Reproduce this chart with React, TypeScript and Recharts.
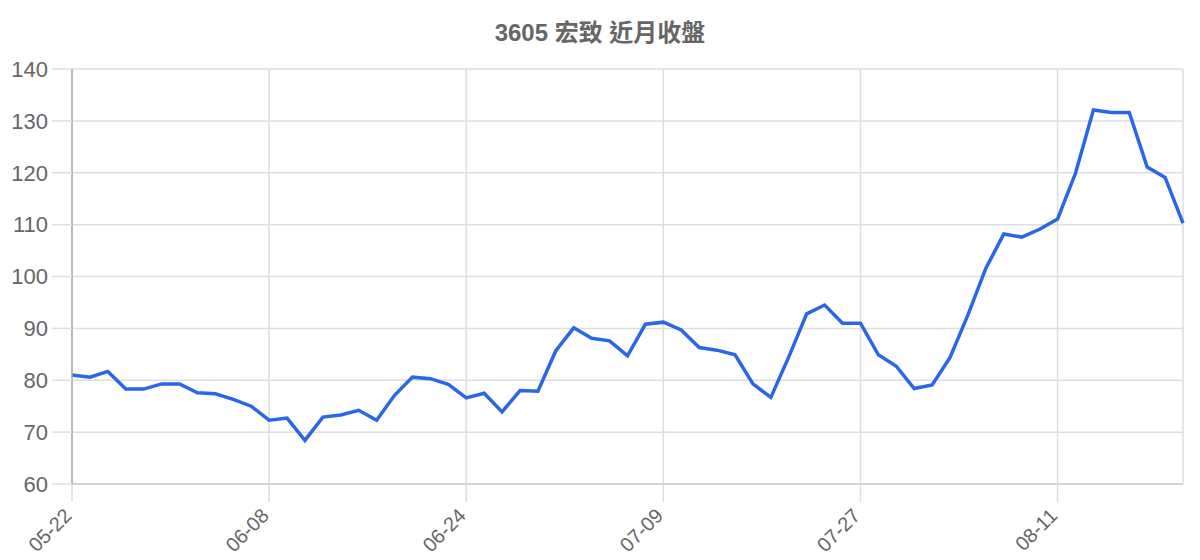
import React from "react";
import {
  LineChart,
  Line,
  XAxis,
  YAxis,
  CartesianGrid,
} from "recharts";

const dates = [
  "05-22", "05-23", "05-25", "05-26", "05-28", "05-29", "05-31", "06-01", "06-03", "06-04", "06-06",
  "06-08", "06-09", "06-11", "06-12", "06-14", "06-15", "06-17", "06-18", "06-20", "06-21", "06-23",
  "06-24", "06-25", "06-27", "06-28", "06-29", "07-01", "07-02", "07-03", "07-05", "07-06", "07-08",
  "07-09", "07-11", "07-12", "07-14", "07-15", "07-17", "07-19", "07-20", "07-22", "07-23", "07-25",
  "07-27", "07-28", "07-29", "07-31", "08-01", "08-03", "08-04", "08-05", "08-07", "08-08", "08-10",
  "08-11", "08-12", "08-14", "08-15", "08-17", "08-18", "08-19", "08-21",
];

const closes = [
  81.0, 80.6, 81.7, 78.3, 78.3, 79.3, 79.3, 77.6, 77.4, 76.3, 75.0,
  72.3, 72.7, 68.4, 72.9, 73.3, 74.2, 72.3, 77.1, 80.6, 80.3, 79.2,
  76.6, 77.5, 73.9, 78.0, 77.9, 85.7, 90.1, 88.1, 87.6, 84.7, 90.8,
  91.2, 89.7, 86.3, 85.8, 84.9, 79.3, 76.7, 84.5, 92.8, 94.5, 91.0,
  91.0, 84.9, 82.7, 78.4, 79.1, 84.4, 92.6, 101.6, 108.2, 107.6, 109.1,
  111.1, 119.9, 132.1, 131.6, 131.6, 121.1, 119.1, 110.3,
];

const xTicks = ["05-22", "06-08", "06-24", "07-09", "07-27", "08-11"];
const yTicks = [60, 70, 80, 90, 100, 110, 120, 130, 140];

const title = "3605 宏致 近月收盤";

const data = dates.map((date, i) => ({ date, close: closes[i] }));

const font = '"Liberation Sans", Arial, "Noto Sans CJK TC", sans-serif';

// rotated date label, end of text sits just left/below the tick end
const DateTick = (props: any) => {
  const { x, y, payload } = props;
  const ax = x - 4;
  const ay = y + 10;
  return (
    <text
      x={ax}
      y={ay}
      dy="0.35em"
      textAnchor="end"
      transform={`rotate(-45 ${ax} ${ay})`}
      fill="#666"
      fontSize={20}
      fontFamily={font}
    >
      {payload.value}
    </text>
  );
};

const App: React.FC = () => {
  return (
    <div style={{ margin: -8, width: 1200, height: 560, position: "relative", background: "#fff", fontFamily: font }}>
      <div
        style={{
          position: "absolute",
          top: 13,
          left: 0,
          width: 1200,
          textAlign: "center",
          fontSize: 24,
          fontWeight: "bold",
          color: "#666",
          fontFamily: font,
        }}
      >
        {title}
      </div>
      <LineChart
        width={1200}
        height={560}
        data={data}
        margin={{ top: 69, right: 17, bottom: 0, left: 0 }}
      >
        <CartesianGrid stroke="#dedede" strokeWidth={1.5} />
        <XAxis
          dataKey="date"
          ticks={xTicks}
          interval={0}
          height={76}
          tickSize={18}
          tickMargin={0}
          stroke="#ccc"
          strokeWidth={1.5}
          tickLine={{ stroke: "#dedede", strokeWidth: 1.5 }}
          tick={<DateTick />}
        />
        <YAxis
          domain={[60, 140]}
          ticks={yTicks}
          width={72}
          tickSize={20}
          tickMargin={4}
          stroke="#aaa"
          strokeWidth={1.5}
          tickLine={{ stroke: "#dedede", strokeWidth: 1.5 }}
          tick={{ fill: "#666", fontSize: 22, fontFamily: font }}
        />
        <Line
          type="linear"
          dataKey="close"
          stroke="#2a66e8"
          strokeWidth={3.5}
          dot={false}
          isAnimationActive={false}
        />
      </LineChart>
    </div>
  );
};

export default App;
